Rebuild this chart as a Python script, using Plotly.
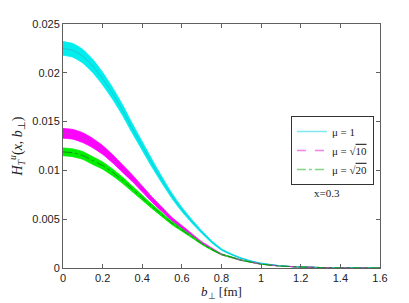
import plotly.graph_objects as go

b_fm = [0.0, 0.05, 0.1, 0.15, 0.2, 0.25, 0.3, 0.35, 0.4, 0.45, 0.5, 0.55, 0.6, 0.65, 0.7, 0.75,
        0.8, 0.85, 0.9, 0.95, 1.0, 1.1, 1.2, 1.3, 1.4, 1.5, 1.6]

mu1_center = [0.0225, 0.0223, 0.0217, 0.0207, 0.0194, 0.0179, 0.0162, 0.0143, 0.0125, 0.0107,
              0.0090, 0.0074, 0.0060, 0.0048, 0.0037, 0.0027, 0.0019, 0.0014, 0.0010, 0.0007,
              0.00048, 0.00022, 0.0001, 0.00005, 0.00002, 0.00001, 0.0]
mu1_err = [0.0007, 0.0007, 0.0007, 0.00068, 0.00065, 0.0006, 0.00055, 0.0005, 0.00045, 0.0004,
           0.00033, 0.00027, 0.00022, 0.00018, 0.00014, 0.00011, 0.00008, 0.00006, 0.00004, 0.00003,
           0.00002, 0.00001, 0.0, 0.0, 0.0, 0.0, 0.0]

mu10_center = [0.0138, 0.0137, 0.01335, 0.0128, 0.0121, 0.0112, 0.0102, 0.0092, 0.0081, 0.0070,
               0.0060, 0.0050, 0.0042, 0.0034, 0.0026, 0.0020, 0.0014, 0.0011, 0.0008, 0.0006,
               0.0004, 0.0002, 0.0001, 0.00005, 0.00002, 0.00001, 0.0]
mu10_err = [0.0005, 0.0005, 0.0005, 0.00048, 0.00045, 0.00042, 0.00038, 0.00034, 0.0003, 0.00026,
            0.00022, 0.00018, 0.00015, 0.00012, 0.0001, 0.00007, 0.00005, 0.00004, 0.00003, 0.00002,
            0.00001, 0.0, 0.0, 0.0, 0.0, 0.0, 0.0]

mu20_center = [0.0119, 0.0118, 0.01153, 0.0110, 0.0105, 0.0098, 0.0090, 0.0081, 0.0072, 0.0063,
               0.00545, 0.0046, 0.0039, 0.0032, 0.0025, 0.0019, 0.0014, 0.0011, 0.0008, 0.0006,
               0.0004, 0.0002, 0.0001, 0.00005, 0.00002, 0.00001, 0.0]
mu20_err = [0.0004, 0.0004, 0.0004, 0.00039, 0.00037, 0.00035, 0.00032, 0.00029, 0.00025, 0.00022,
            0.00019, 0.00016, 0.00013, 0.0001, 0.00008, 0.00006, 0.00005, 0.00004, 0.00003, 0.00002,
            0.00001, 0.0, 0.0, 0.0, 0.0, 0.0, 0.0]

series_names = ["μ = 1", "μ = √<span style='text-decoration:overline'>10</span>",
                "μ = √<span style='text-decoration:overline'>20</span>"]
x_ticks = [0, 0.2, 0.4, 0.6, 0.8, 1.0, 1.2, 1.4, 1.6]
y_ticks = [0, 0.005, 0.01, 0.015, 0.02, 0.025]

fill_colors = ["#00eeee", "#ff00ff", "#00ee00"]
line_colors = ["#22c4d4", "#cc33cc", "#1a8a1a"]
legend_colors = ["#7fe8ee", "#f080f0", "#80d880"]
dashes = ["solid", "dash", "dashdot"]

fig = go.Figure()
data = [(mu1_center, mu1_err), (mu10_center, mu10_err), (mu20_center, mu20_err)]

for (c, e), fc in zip(data, fill_colors):
    lo = [ci - ei for ci, ei in zip(c, e)]
    hi = [ci + ei for ci, ei in zip(c, e)]
    fig.add_trace(go.Scatter(x=b_fm, y=lo, mode="lines",
                             line=dict(color=fc, width=0.8, shape="spline", smoothing=0.5),
                             showlegend=False, hoverinfo="skip"))
    fig.add_trace(go.Scatter(x=b_fm, y=hi, mode="lines",
                             line=dict(color=fc, width=0.8, shape="spline", smoothing=0.5),
                             fill="tonexty", fillcolor=fc, showlegend=False, hoverinfo="skip"))

for (c, e), lc, d, nm in zip(data, line_colors, dashes, series_names):
    fig.add_trace(go.Scatter(x=b_fm, y=c, mode="lines", name=nm,
                             line=dict(color=lc, width=1, dash=d, shape="spline", smoothing=0.5),
                             showlegend=False))

for lc, d, nm in zip(legend_colors, dashes, series_names):
    fig.add_trace(go.Scatter(x=[None], y=[None], mode="lines", name=nm,
                             line=dict(color=lc, width=1.5, dash=d)))

axis_common = dict(showgrid=False, zeroline=False, showline=True, linecolor="#606060", linewidth=1,
                   mirror="ticks", ticks="inside", ticklen=4, tickcolor="#606060", automargin=False,
                   tickfont=dict(family="Liberation Sans, Arial, sans-serif", size=11, color="#222"))

fig.update_layout(
    width=409, height=303,
    margin=dict(l=63, r=29, t=24, b=35),
    paper_bgcolor="white", plot_bgcolor="white",
    xaxis=dict(range=[0, 1.6], tickvals=x_ticks, ticktext=[f"{v:g}" for v in x_ticks],
               title=dict(text="<i>b</i><sub>⊥</sub> [fm]", standoff=2,
                          font=dict(family="Liberation Serif, Times New Roman, serif", size=13, color="#222")),
               **axis_common),
    yaxis=dict(range=[0, 0.025], tickvals=y_ticks, ticktext=[f"{v:g}" for v in y_ticks],
               title=dict(text="<i>H</i><sub><i>T</i></sub><sup><i>u</i></sup>(<i>x</i>, <i>b</i><sub>⊥</sub>)",
                          standoff=6,
                          font=dict(family="Liberation Serif, Times New Roman, serif", size=14, color="#222")),
               **axis_common),
    legend=dict(x=0.719, y=0.623, xanchor="left", yanchor="top", bgcolor="white",
                bordercolor="#333", borderwidth=1, traceorder="normal",
                font=dict(family="Liberation Serif, Times New Roman, serif", size=11, color="#222"),
                itemwidth=30, tracegroupgap=2),
    annotations=[dict(x=(327 - 63) / 317, y=(268 - 193) / 244, xref="paper", yref="paper",
                      xanchor="center", yanchor="middle",
                      text="x=0.3", showarrow=False,
                      font=dict(family="Liberation Serif, Times New Roman, serif", size=11, color="#222"))],
)

fig.write_html("out.html", config={"displayModeBar": False},
               post_script="document.body.style.margin='0';document.body.style.overflow='hidden';")
